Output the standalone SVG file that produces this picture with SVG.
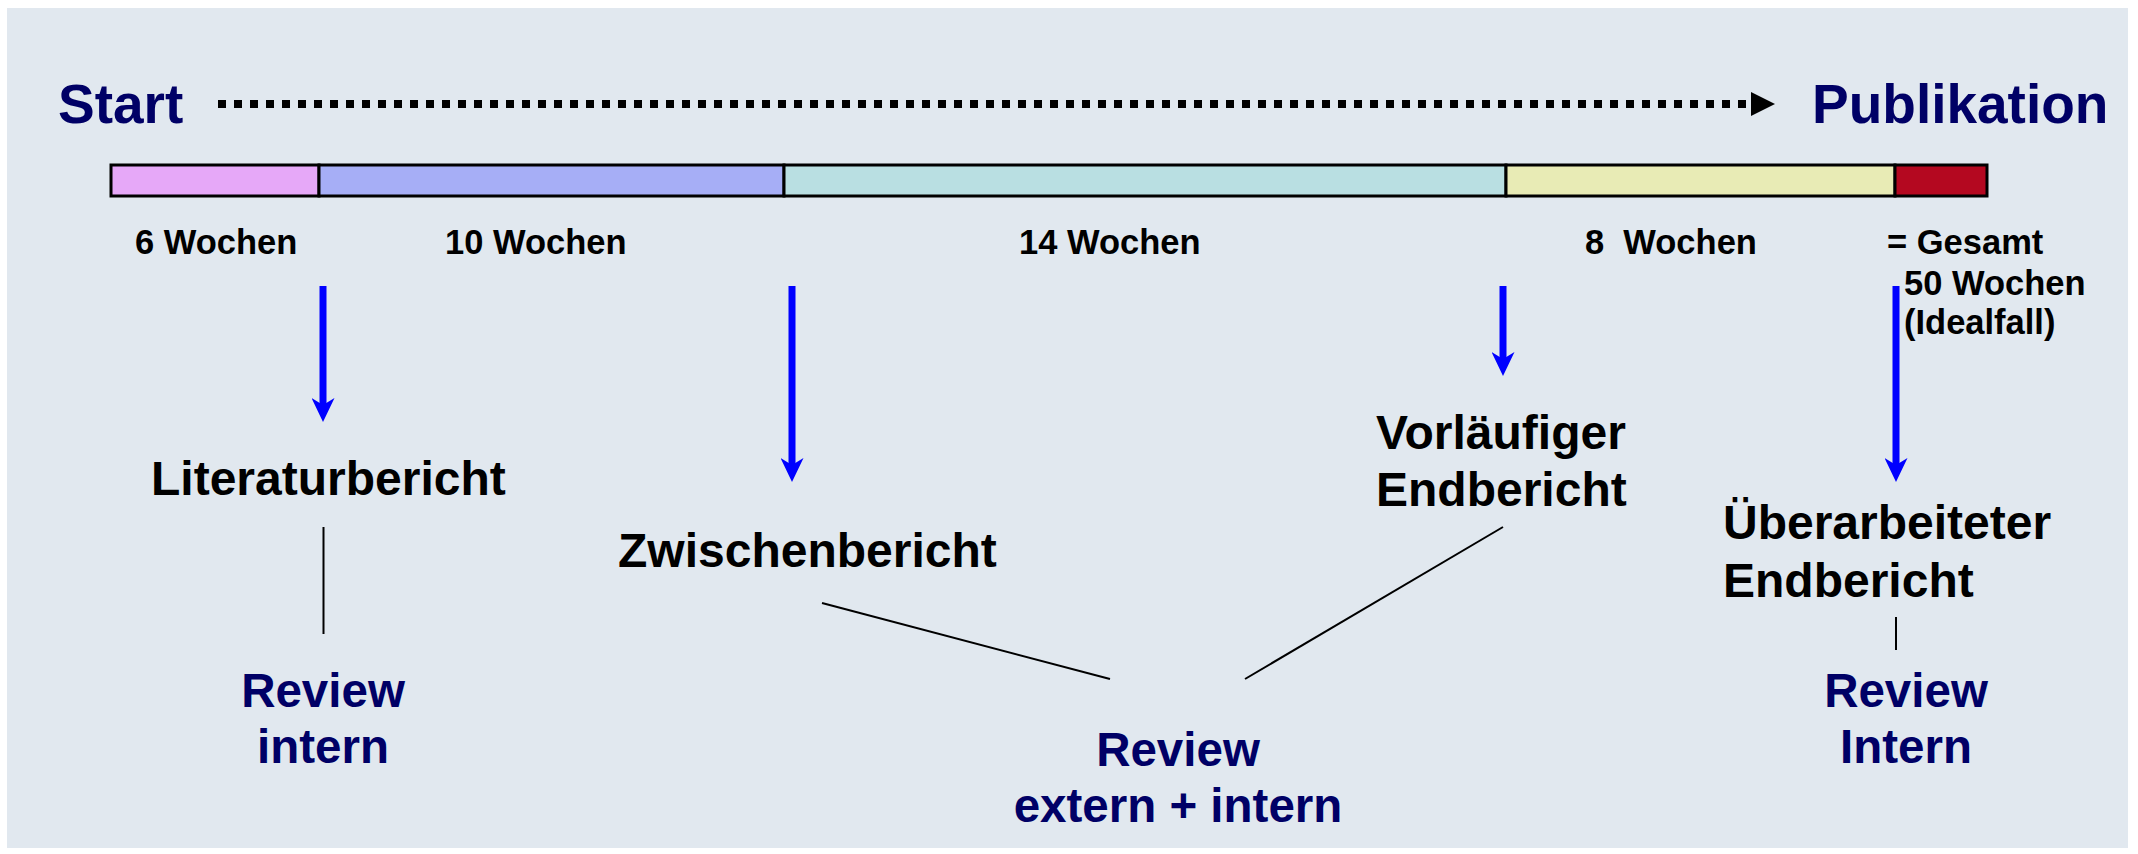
<svg xmlns="http://www.w3.org/2000/svg" width="2138" height="854" viewBox="0 0 2138 854">
<defs>
<style>
text{font-family:"Liberation Sans",Arial,Helvetica,sans-serif;font-weight:bold}
.title{font-size:55px;fill:#000066}
.wk{font-size:34.5px;fill:#000}
.lbl{font-size:48px;fill:#000}
.rev{font-size:47.5px;fill:#000066;text-anchor:middle}
.seg{stroke:#000;stroke-width:3}
.blue{stroke:#0000FF;stroke-width:7;fill:none}
.thin{stroke:#000;stroke-width:2;fill:none}
</style>
<marker id="bh" viewBox="0 0 24 23" refX="7" refY="11.5" markerWidth="24" markerHeight="23" markerUnits="userSpaceOnUse" orient="auto">
<path d="M0,0 L24,11.5 L0,23 L7,11.5 Z" fill="#0000FF"/>
</marker>
</defs>
<rect x="7" y="8" width="2121" height="840" fill="#E1E8EF"/>

<g id="start"><text class="title" x="58" y="123">Start</text></g>
<g id="publikation"><text class="title" x="1812" y="123">Publikation</text></g>

<g id="timeline">
<rect class="seg" x="111" y="165" width="208" height="31" fill="#E6A8F8"/>
<rect class="seg" x="319" y="165" width="465" height="31" fill="#A6AEF6"/>
<rect class="seg" x="784" y="165" width="722" height="31" fill="#B9DFE2"/>
<rect class="seg" x="1506" y="165" width="389" height="31" fill="#E8EBB5"/>
<rect class="seg" x="1895" y="165" width="92" height="31" fill="#B40820"/>
</g>

<g id="weeks">
<text class="wk" x="135" y="254">6 Wochen</text>
<text class="wk" x="445" y="254">10 Wochen</text>
<text class="wk" x="1019" y="254">14 Wochen</text>
<text class="wk" x="1585" y="254" xml:space="preserve">8  Wochen</text>
<text class="wk" x="1887" y="254">= Gesamt</text>
<text class="wk" x="1904" y="295">50 Wochen</text>
<text class="wk" x="1904" y="334">(Idealfall)</text>
</g>

<g id="connectors">
<line x1="218" y1="104" x2="1747" y2="104" stroke="#000" stroke-width="8" stroke-dasharray="8 8"/>
<polygon points="1751,92 1775,104 1751,116" fill="#000"/>
<line class="blue" x1="323" y1="286" x2="323" y2="405" marker-end="url(#bh)"/>
<line class="blue" x1="792" y1="286" x2="792" y2="465" marker-end="url(#bh)"/>
<line class="blue" x1="1503" y1="286" x2="1503" y2="359" marker-end="url(#bh)"/>
<line class="blue" x1="1896" y1="286" x2="1896" y2="465" marker-end="url(#bh)"/>
<line class="thin" x1="323.5" y1="527" x2="323.5" y2="634"/>
<line class="thin" x1="822" y1="603" x2="1110" y2="679"/>
<line class="thin" x1="1245" y1="679" x2="1503" y2="527"/>
<line class="thin" x1="1896" y1="617" x2="1896" y2="650"/>
</g>

<g id="literaturbericht"><text class="lbl" x="151" y="495">Literaturbericht</text></g>
<g id="zwischenbericht"><text class="lbl" x="618" y="567">Zwischenbericht</text></g>
<g id="vorlaeufiger-endbericht">
<text class="lbl" x="1376" y="449">Vorläufiger</text>
<text class="lbl" x="1376" y="506">Endbericht</text>
</g>
<g id="ueberarbeiteter-endbericht">
<text class="lbl" x="1723" y="539">Überarbeiteter</text>
<text class="lbl" x="1723" y="597">Endbericht</text>
</g>

<g id="review-intern-1">
<text class="rev" x="323" y="707">Review</text>
<text class="rev" x="323" y="763">intern</text>
</g>
<g id="review-extern-intern">
<text class="rev" x="1178" y="766">Review</text>
<text class="rev" x="1178" y="822">extern + intern</text>
</g>
<g id="review-intern-2">
<text class="rev" x="1906" y="707">Review</text>
<text class="rev" x="1906" y="763">Intern</text>
</g>
</svg>
